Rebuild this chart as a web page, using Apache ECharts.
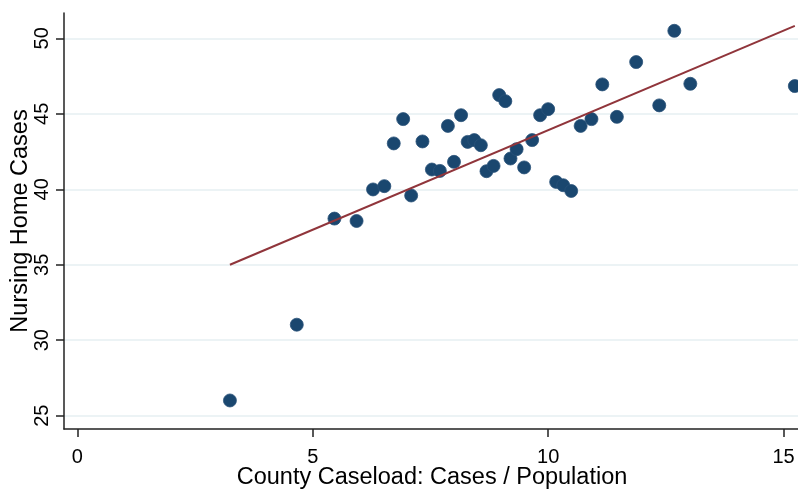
<!DOCTYPE html>
<html>
<head>
<meta charset="utf-8">
<script src="https://cdn.jsdelivr.net/npm/echarts@6/dist/echarts.min.js"></script>
<style>
  html, body { margin: 0; padding: 0; background: #ffffff; }
  #chart { width: 798px; height: 489px; }
</style>
</head>
<body>
<div id="chart"></div>
<script>
// County caseload (cases / population) for each county
const caseload = [
  3.24, 4.66, 5.46, 5.93, 6.28, 6.52, 6.72, 6.92, 7.09, 7.33,
  7.53, 7.70, 7.87, 8.00, 8.15, 8.29, 8.43, 8.57, 8.69, 8.84,
  8.96, 9.09, 9.20, 9.33, 9.49, 9.66, 9.83, 10.00, 10.17, 10.32,
  10.49, 10.69, 10.92, 11.15, 11.46, 11.87, 12.36, 12.68, 13.02, 15.24
];
// Nursing home cases for the same counties
const nursingCases = [
  26.01, 31.03, 38.06, 37.90, 39.99, 40.21, 43.04, 44.65, 39.59, 43.17,
  41.31, 41.22, 44.20, 41.82, 44.91, 43.14, 43.26, 42.92, 41.20, 41.55,
  46.24, 45.84, 42.04, 42.66, 41.45, 43.26, 44.91, 45.31, 40.49, 40.27,
  39.89, 44.20, 44.65, 46.95, 44.80, 48.43, 45.56, 50.50, 46.99, 46.84
];
// Linear fit over the data range: end points
const fitX = [3.24, 15.24];
const fitY = [35.0, 50.83];

const xTicks = [0, 5, 10, 15];
const yTicks = [25, 30, 35, 40, 45, 50];

const points = caseload.map((x, i) => [x, nursingCases[i]]);
const fitLine = fitX.map((x, i) => [x, fitY[i]]);

const font = '"Liberation Sans", Arial, sans-serif';
const chart = echarts.init(document.getElementById('chart'), null, { renderer: 'canvas' });

chart.setOption({
  backgroundColor: '#ffffff',
  animation: false,
  grid: { left: 64, right: -2, top: 13, bottom: 60, containLabel: false, outerBoundsMode: 'none' },
  xAxis: {
    type: 'value',
    min: -0.285,
    max: 15.35,
    name: 'County Caseload: Cases / Population',
    nameLocation: 'middle',
    nameGap: 37,
    nameMoveOverlap: false,
    nameTextStyle: { fontFamily: font, fontSize: 23.5, color: '#000' },
    axisLine: { show: true, onZero: false, lineStyle: { color: '#222', width: 1.5 } },
    axisTick: { show: true, length: 8, customValues: xTicks, lineStyle: { color: '#222', width: 1.5 } },
    axisLabel: { customValues: xTicks, margin: 18, fontFamily: font, fontSize: 20, color: '#000' },
    splitLine: { show: false }
  },
  yAxis: {
    type: 'value',
    min: 24.12,
    max: 51.68,
    name: 'Nursing Home Cases',
    nameLocation: 'middle',
    nameGap: 31,
    nameMoveOverlap: false,
    nameTextStyle: { fontFamily: font, fontSize: 23.5, color: '#000' },
    axisLine: { show: true, onZero: false, lineStyle: { color: '#222', width: 1.5 } },
    axisTick: { show: true, length: 8, customValues: yTicks, lineStyle: { color: '#222', width: 1.5 } },
    axisLabel: { customValues: yTicks, rotate: 90, margin: 12, fontFamily: font, fontSize: 20, color: '#000' },
    splitLine: { show: true, lineStyle: { color: '#e6eff2', width: 1.5 } }
  },
  series: [
    {
      type: 'scatter',
      data: points,
      symbol: 'circle',
      symbolSize: 13,
      itemStyle: { color: '#1a476f', borderColor: '#2a5278', borderWidth: 0.8, opacity: 1 },
      z: 3
    },
    {
      type: 'line',
      data: fitLine,
      showSymbol: false,
      symbol: 'none',
      lineStyle: { color: '#90353b', width: 2 },
      z: 4
    }
  ]
});
</script>
</body>
</html>
